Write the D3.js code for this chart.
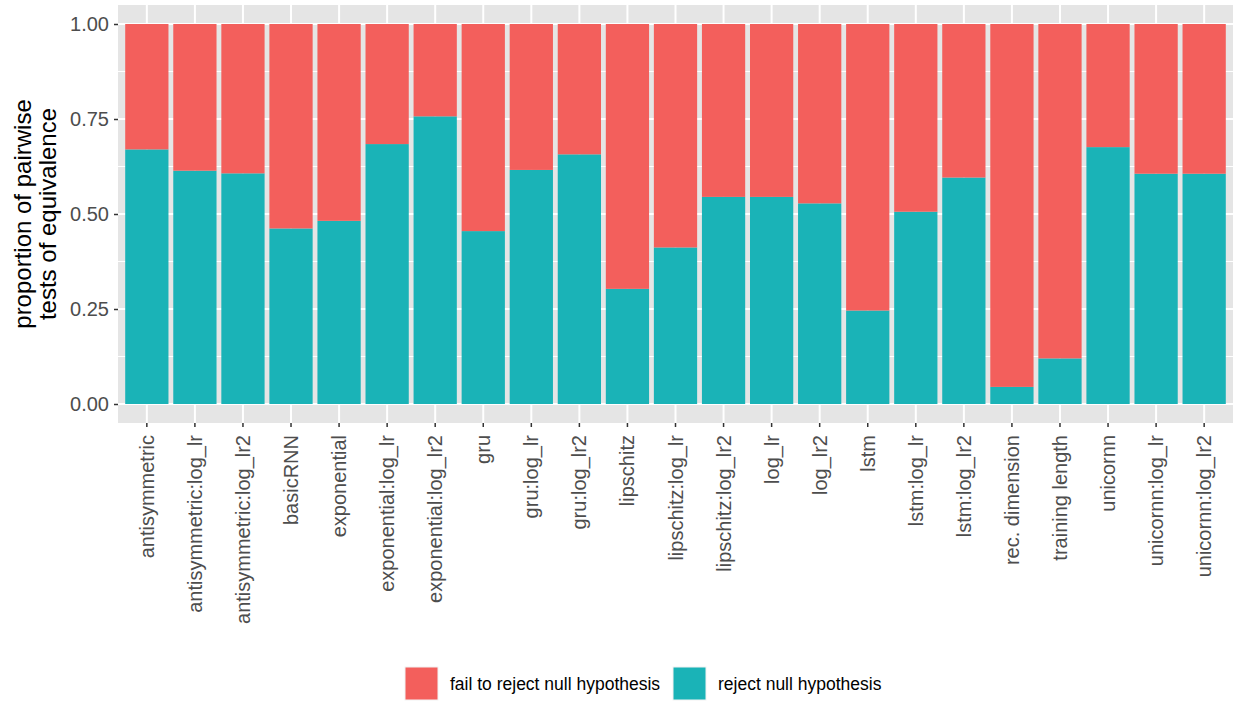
<!DOCTYPE html>
<html>
<head>
<meta charset="utf-8">
<script src="https://cdn.jsdelivr.net/npm/d3@7"></script>
<style>
  body { margin: 0; background: #fff; }
  svg { display: block; font-family: "Liberation Sans", Arial, sans-serif; }
</style>
</head>
<body>
<svg id="chart" width="1235" height="702"></svg>
<script>
// categories on the x axis
var categories = [
  "antisymmetric", "antisymmetric:log_lr", "antisymmetric:log_lr2", "basicRNN",
  "exponential", "exponential:log_lr", "exponential:log_lr2", "gru", "gru:log_lr",
  "gru:log_lr2", "lipschitz", "lipschitz:log_lr", "lipschitz:log_lr2", "log_lr",
  "log_lr2", "lstm", "lstm:log_lr", "lstm:log_lr2", "rec. dimension",
  "training length", "unicornn", "unicornn:log_lr", "unicornn:log_lr2"
];
// proportion of tests that reject the null hypothesis
var rejectShare = [
  0.670, 0.614, 0.607, 0.462, 0.482, 0.684, 0.757, 0.455, 0.616, 0.657,
  0.303, 0.412, 0.545, 0.545, 0.528, 0.246, 0.506, 0.596, 0.045, 0.120,
  0.676, 0.606, 0.606
];
var seriesNames = ["fail to reject null hypothesis", "reject null hypothesis"];
var seriesColors = ["#F35F5C", "#1AB3B7"];
var yTicks = [0, 0.25, 0.5, 0.75, 1];
var yMinor = [0.125, 0.375, 0.625, 0.875];

var svg = d3.select("#chart");
var panel = { left: 118, top: 5, right: 1233, bottom: 423 };

var x = d3.scaleBand()
  .domain(categories)
  .range([panel.left, panel.right])
  .paddingInner(0.1)
  .paddingOuter(0.15);
var y = d3.scaleLinear().domain([-0.05, 1.05]).range([panel.bottom, panel.top]);

// rows for the stack: fail share on top of reject share
var rows = categories.map(function (c, i) {
  return { cat: c, reject: rejectShare[i], fail: 1 - rejectShare[i] };
});
var stack = d3.stack().keys(["reject", "fail"]);
var layers = stack(rows);

var g = svg.append("g");

// panel background + grid
g.append("rect")
  .attr("x", panel.left).attr("y", panel.top)
  .attr("width", panel.right - panel.left).attr("height", panel.bottom - panel.top)
  .attr("fill", "#E5E5E5");

g.selectAll(".minor").data(yMinor).enter().append("line")
  .attr("x1", panel.left).attr("x2", panel.right)
  .attr("y1", function (d) { return y(d); }).attr("y2", function (d) { return y(d); })
  .attr("stroke", "#fff").attr("stroke-width", 1);

g.selectAll(".major").data(yTicks).enter().append("line")
  .attr("x1", panel.left).attr("x2", panel.right)
  .attr("y1", function (d) { return y(d); }).attr("y2", function (d) { return y(d); })
  .attr("stroke", "#fff").attr("stroke-width", 2);

g.selectAll(".vmajor").data(categories).enter().append("line")
  .attr("y1", panel.top).attr("y2", panel.bottom)
  .attr("x1", function (d) { return x(d) + x.bandwidth() / 2; })
  .attr("x2", function (d) { return x(d) + x.bandwidth() / 2; })
  .attr("stroke", "#fff").attr("stroke-width", 2);

// bars (layer 0 = reject, layer 1 = fail)
var colorByKey = { reject: seriesColors[1], fail: seriesColors[0] };
g.selectAll(".layer").data(layers).enter().append("g")
  .attr("fill", function (d) { return colorByKey[d.key]; })
  .selectAll("rect").data(function (d) { return d; }).enter().append("rect")
  .attr("x", function (d) { return x(d.data.cat); })
  .attr("width", x.bandwidth())
  .attr("y", function (d) { return y(d[1]); })
  .attr("height", function (d) { return y(d[0]) - y(d[1]); });

// y axis
var yAxis = g.append("g")
  .attr("transform", "translate(" + panel.left + ",0)")
  .call(d3.axisLeft(y).tickValues(yTicks).tickFormat(d3.format(".2f")).tickSize(4).tickPadding(5));
yAxis.select(".domain").remove();
yAxis.selectAll("line").attr("stroke", "#333").attr("stroke-width", 1.5);
yAxis.selectAll("text").attr("fill", "#4D4D4D").style("font-size", "20px");

// x axis
var xAxis = g.append("g")
  .attr("transform", "translate(0," + panel.bottom + ")")
  .call(d3.axisBottom(x).tickSize(4).tickPadding(6));
xAxis.select(".domain").remove();
xAxis.selectAll("line").attr("stroke", "#333").attr("stroke-width", 1.5);
xAxis.selectAll("text")
  .attr("fill", "#4D4D4D").style("font-size", "20px")
  .attr("transform", "rotate(-90)")
  .attr("text-anchor", "end")
  .attr("x", -12).attr("y", 0).attr("dy", "0.35em");

// y title
var yTitle = svg.append("text")
  .attr("transform", "translate(0," + y(0.5) + ") rotate(-90)")
  .attr("text-anchor", "middle")
  .attr("fill", "#000")
  .style("font-size", "24px");
yTitle.append("tspan").attr("x", 0).attr("y", 31).text("proportion of pairwise");
yTitle.append("tspan").attr("x", 0).attr("y", 56).text("tests of equivalence");

// legend
var legendX = [405, 673];
var legend = svg.selectAll(".legend").data(seriesNames).enter().append("g")
  .attr("transform", function (d, i) { return "translate(" + legendX[i] + ",667)"; });
legend.append("rect")
  .attr("width", 33).attr("height", 33)
  .attr("fill", function (d, i) { return seriesColors[i]; })
  .attr("stroke", "#F2F2F2").attr("stroke-width", 1);
legend.append("text")
  .attr("x", 45).attr("y", 17).attr("dy", "0.35em")
  .attr("fill", "#000")
  .style("font-size", "17.5px")
  .text(function (d) { return d; });
</script>
</body>
</html>
